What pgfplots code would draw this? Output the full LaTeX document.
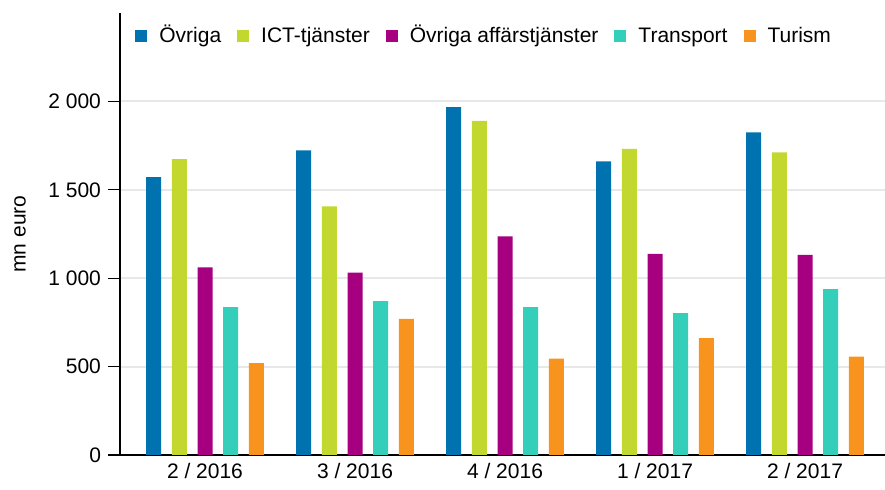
\documentclass[border=0pt]{standalone}
\usepackage{pgfplots}
\pgfplotsset{compat=1.18}
\usepackage{fontspec}
\setmainfont{Liberation Sans}
\definecolor{cOv}{RGB}{0,114,176}
\definecolor{cIct}{RGB}{194,216,46}
\definecolor{cAff}{RGB}{166,0,128}
\definecolor{cTr}{RGB}{51,207,186}
\definecolor{cTu}{RGB}{248,148,30}
\definecolor{cGrid}{RGB}{232,232,232}
\begin{document}
\begin{tikzpicture}
\useasboundingbox (-60pt,-17.5pt) rectangle (382.5pt,227.5pt);
\begin{axis}[
  at={(0,0)}, anchor=south west,
  scale only axis, width=382.5pt, height=221pt,
  xmin=-0.5667, xmax=4.5333, ymin=0, ymax=2500,
  enlargelimits=false,
  ybar=5.35pt, bar width=7.5pt,
  axis lines*=left,
  axis line style={line width=0.6pt, black},
  xtick={0,1,2,3,4},
  xticklabels={2 / 2016, 3 / 2016, 4 / 2016, 1 / 2017, 2 / 2017},
  ytick={0,500,1000,1500,2000},
  yticklabels={0,500,1\ 000,1\ 500,2\ 000},
  tick align=outside, major tick length=6pt,
  xtick style={draw=none},
  ytick style={black, line width=0.6pt},
  xticklabel style={yshift=5.5pt},
  ymajorgrids, grid style={color=cGrid, line width=1pt},
  tick label style={font=\fontsize{10.5}{12}\selectfont},
  ylabel={mn euro},
  ylabel style={at={(axis description cs:-0.1307,0.5)}, anchor=center, font=\fontsize{10.5}{12}\selectfont},
  legend columns=5,
  legend style={draw=none, fill=none, at={(axis description cs:0.0196,0.948)}, anchor=west, inner sep=0pt,
    font=\fontsize{10.5}{12}\selectfont,
    nodes={inner xsep=0pt, inner ysep=0pt, text height=0.9em, text depth=0.2em},
    /tikz/every odd column/.append style={column sep=6pt},
    /tikz/every even column/.append style={column sep=8pt}},
  legend image code/.code={\fill[#1] (0pt,-3pt) rectangle (6pt,3pt);},
]
\addplot[fill=cOv, draw=none] coordinates {(0,1572) (1,1723) (2,1967) (3,1661) (4,1825)};
\addplot[fill=cIct, draw=none] coordinates {(0,1674) (1,1406) (2,1890) (3,1731) (4,1712)};
\addplot[fill=cAff, draw=none] coordinates {(0,1061) (1,1031) (2,1236) (3,1138) (4,1132)};
\addplot[fill=cTr, draw=none] coordinates {(0,836) (1,870) (2,836) (3,802) (4,938)};
\addplot[fill=cTu, draw=none] coordinates {(0,519) (1,770) (2,545) (3,661) (4,557)};
\legend{Övriga, ICT-tjänster, Övriga affärstjänster, Transport, Turism}
\end{axis}
\end{tikzpicture}
\end{document}
